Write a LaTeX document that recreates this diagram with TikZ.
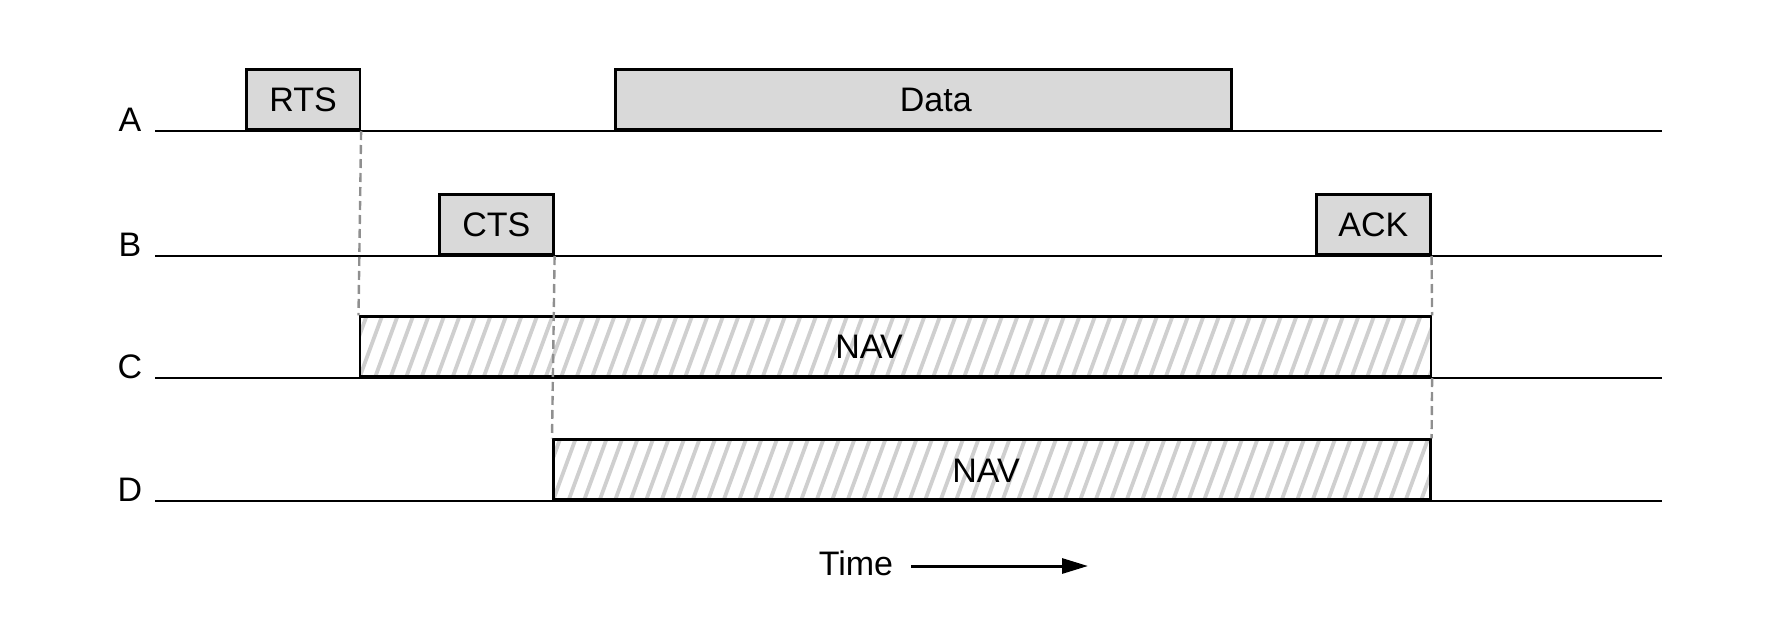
\documentclass[tikz,border=0pt]{standalone}
\usepackage{fontspec}
\setmainfont{Liberation Sans}
\usetikzlibrary{arrows.meta}
\definecolor{boxgray}{HTML}{D9D9D9}
\definecolor{hatchgray}{HTML}{CFCFCF}
\definecolor{dashgray}{HTML}{8F8F8F}
\tikzset{
  lbl/.style={font=\fontsize{17}{20}\selectfont, inner sep=0pt, anchor=base},
  timeline/.style={line width=1.3pt, line cap=rect},
  pkt/.style={draw, line width=1.3pt, fill=boxgray, inner sep=0pt, anchor=south west,
    minimum height=30pt, font=\fontsize{17}{20}\selectfont},
  nav/.style={draw, line width=1.3pt, fill=white, inner sep=0pt, anchor=south west,
    minimum height=30pt,
    path picture={
      \foreach \i in {-2,...,80}
        \draw[hatchgray, line width=1.9pt]
          ([xshift=\i*7.75pt]path picture bounding box.south west) -- ++(11pt,30pt);
    }},
  guide/.style={dashgray, line width=1.2pt, dash pattern=on 4.5pt off 2.5pt},
}
\begin{document}
\begin{tikzpicture}[x=0.5pt, y=-0.5pt]
\useasboundingbox (0,0) rectangle (1784,627);
% row labels
\node[lbl] (la) at (130,131) {A};
\node[lbl] (lb) at (130,256) {B};
\node[lbl] (lc) at (130,378) {C};
\node[lbl] (ld) at (130,501) {D};
% time lines
\coordinate (a0) at (156,131); \coordinate (a1) at (1661,131);
\coordinate (b0) at (156,256); \coordinate (b1) at (1661,256);
\coordinate (c0) at (156,378); \coordinate (c1) at (1661,378);
\coordinate (d0) at (156,501); \coordinate (d1) at (1661,501);
\draw[timeline] (a0) -- (a1);
\draw[timeline] (b0) -- (b1);
\draw[timeline] (c0) -- (c1);
\draw[timeline] (d0) -- (d1);
% packets
\node[pkt, minimum width=56.75pt] (rts) at (245,131) {RTS};
\node[pkt, minimum width=308pt, text width=308pt, align=center] (data) at (614,131) {\hspace*{12.5pt}Data};
\node[pkt, minimum width=57pt] (cts) at (438,256) {CTS};
\node[pkt, minimum width=57pt] (ack) at (1315,256) {ACK};
% NAV bars
\node[nav, minimum width=535.5pt] (navc) at (358.5,378) {};
\node[nav, minimum width=438.5pt] (navd) at (552,501) {};
\node[lbl, anchor=center] (navctxt) at (869,347) {NAV};
\node[lbl, anchor=center] (navdtxt) at (986,471) {NAV};
% dashed guides
\draw[guide] (rts.south east) -- (navc.north west);
\draw[guide] (cts.south east) -- (navd.north west);
\draw[guide] (ack.south east) -- (navc.north east);
\draw[guide] (navc.south east) -- (navd.north east);
% time arrow
\node[lbl] (time) at (856,575) {Time};
\coordinate (ts) at (911,566);
\coordinate (te) at (1088,566);
\draw[line width=1.5pt, -{Triangle[length=13pt, width=7.5pt]}] (ts) -- (te);
\end{tikzpicture}
\end{document}
